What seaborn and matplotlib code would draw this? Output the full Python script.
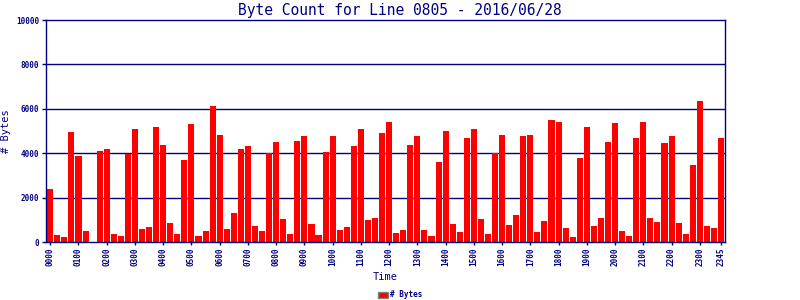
import matplotlib
matplotlib.use("Agg")
import matplotlib.pyplot as plt
import seaborn as sns
import pandas as pd
from matplotlib.patches import Patch

times = [f"{h:02d}{m:02d}" for h in range(24) for m in (0, 15, 30, 45)]
byte_counts = [
    2400, 300, 230, 4950, 3870, 500, 0, 4100,
    4190, 360, 270, 3980, 5100, 585, 675, 5200,
    4370, 855, 360, 3690, 5300, 270, 500, 6150,
    4820, 585, 1310, 4190, 4320, 720, 500, 4000,
    4500, 1035, 360, 4550, 4775, 810, 315, 4050,
    4775, 540, 675, 4320, 5090, 990, 1080, 4910,
    5400, 405, 540, 4370, 4775, 540, 270, 3600,
    5000, 810, 450, 4680, 5090, 1035, 360, 4000,
    4820, 765, 1215, 4775, 4820, 450, 945, 5495,
    5400, 630, 225, 3780, 5180, 720, 1080, 4500,
    5360, 500, 270, 4680, 5400, 1080, 900, 4460,
    4775, 855, 360, 3470, 6350, 720, 630, 4680,
]
y_ticks = [0, 2000, 4000, 6000, 8000, 10000]
title = "Byte Count for Line 0805 - 2016/06/28"

navy = "#000080"
df = pd.DataFrame({"Time": times, "Bytes": byte_counts})

sns.set_theme(style="white")
plt.rcParams["font.family"] = ["DejaVu Sans Mono", "DejaVu Sans"]

fig = plt.figure(figsize=(8, 3), dpi=100)
ax = fig.add_axes([0.0575, 0.193, 0.849, 0.74])
sns.barplot(data=df, x="Time", y="Bytes", color="#FF0000", saturation=1,
            width=0.86, ax=ax, order=times, linewidth=0, edgecolor="none")

ax.set_ylim(0, 10000)
ax.set_xlim(-0.6, len(times) - 0.4)
ax.set_yticks(y_ticks)
ax.set_yticklabels([str(v) for v in y_ticks], fontsize=5.5, fontweight="bold", color=navy)
tick_pos = list(range(0, len(times), 4)) + [len(times) - 1]
ax.set_xticks(tick_pos)
ax.set_xticklabels([times[i] for i in tick_pos], rotation=90, fontsize=5.5,
                   fontweight="bold", color=navy)
for v in y_ticks[1:-1]:
    ax.axhline(v, color=navy, lw=1.0, zorder=0)
for s in ax.spines.values():
    s.set_color(navy)
    s.set_linewidth(1.0)
    s.set_visible(True)
ax.tick_params(axis="y", length=3, color=navy, width=1, pad=2, left=True)
ax.tick_params(axis="x", length=2, color=navy, width=1, pad=2, bottom=True)

ax.set_xlabel("Time", fontsize=7.5, color=navy, labelpad=4)
ax.set_ylabel("# Bytes", fontsize=7.5, color=navy)
ax.yaxis.set_label_coords(-0.052, 0.5)
fig.text(0.5, 0.965, title, ha="center", va="center", fontsize=10.5, color=navy)

handle = Patch(facecolor="#FF0000", edgecolor="#808080", linewidth=1)
fig.legend([handle], ["# Bytes"], loc="center", bbox_to_anchor=(0.5, 0.017),
           frameon=False, prop={"size": 5.5, "weight": "bold"},
           handlelength=1.3, handleheight=0.9, handletextpad=0.3, labelcolor=navy)

fig.savefig("out.png", dpi=100, facecolor="white")
